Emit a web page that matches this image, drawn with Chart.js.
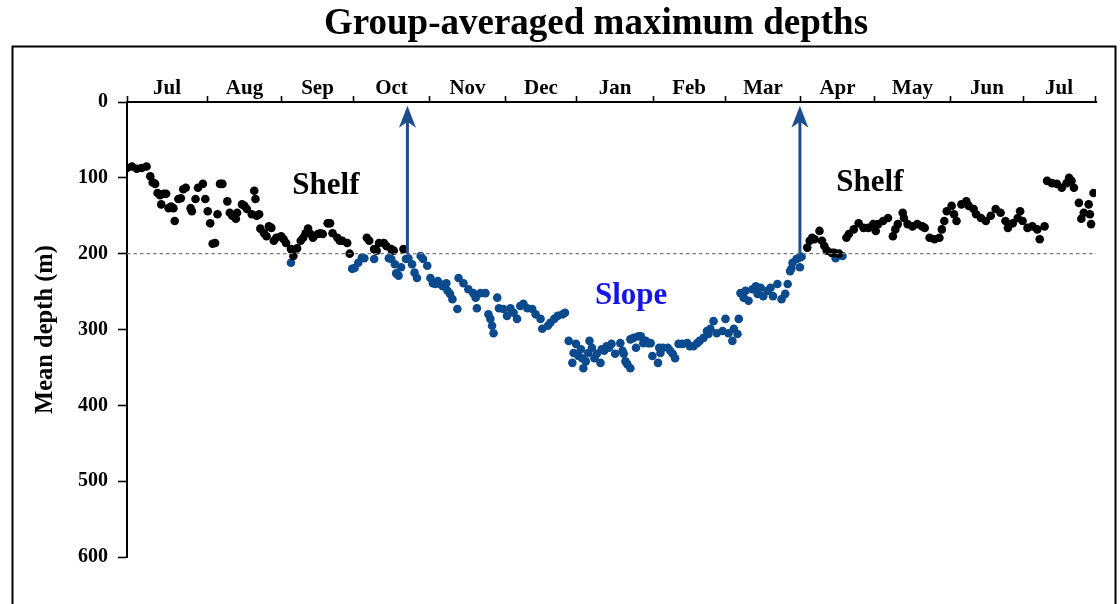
<!DOCTYPE html>
<html>
<head>
<meta charset="utf-8">
<script src="https://cdn.jsdelivr.net/npm/chart.js@4.4.1/dist/chart.umd.min.js"></script>
<style>
  html, body { margin: 0; padding: 0; background: #fff; }
  #wrap { width: 1120px; height: 604px; position: relative; }
</style>
</head>
<body>
<div id="wrap"><canvas id="c" width="1120" height="604"></canvas></div>
<script>
// Month names along the top axis (July through the following July)
const monthLabels = ['Jul', 'Aug', 'Sep', 'Oct', 'Nov', 'Dec', 'Jan', 'Feb', 'Mar', 'Apr', 'May', 'Jun', 'Jul'];
// Month boundaries, in days since the start of the first July
const monthEdges = [0, 32.7, 63.3, 92.4, 123.8, 154.5, 183.9, 215.0, 244.4, 275.4, 305.3, 336.7, 366.2, 395.6];
// Depth ticks (m)
const depthTicks = [0, 100, 200, 300, 400, 500, 600];

// Daily group-averaged maximum depth while on the shelf: [day, depth m]
const shelfPoints = [
  [0,87],[2,85],[4,88],[6,87],[8,85],[9.5,98],[10.5,106],[11.5,108],[12.5,120],[13.5,123],[14,135],[15,121],
  [16,121],[17,140],[18,138],[19,140],[19.5,157],[21,128],[22,127],[23,115],[24,113],[26,140],[26.5,144],
  [28,128],[29,113],[31,108],[32,128],[33,144],[34,160],[35,187],[36,186],[37,148],[38,108],[39,108],
  [41,131],[42,146],[43,150],[44.5,154],[45,146],[47,135],[48,137],[49,141],[51,148],[52,117],[52.5,128],
  [53,150],[54,148],[54.5,167],[56,173],[57,177],[58,164],[59,166],[60,183],[61,179],[63,177],[64,181],
  [65,186],[67,194],[68,203],[69.5,193],[71,183],[72,179],[73,173],[74,167],[75,174],[76,179],[78,174],
  [79,173],[80,174],[82,160],[83,160],[84,173],[86,179],[87,183],[88,183],[90,186],[91,200],[98,179],
  [99,183],[101,194],[102,196],[103,186],[105,186],[106,190],[108,194],[109,196],[113,194],
  [278,192],[279,183],[280,179],[281,181],[283,170],[284,183],[285,190],[286,196],[288,199],[289,199],
  [291,200],[294,179],[295,174],[297,168],[299,160],[301,166],[303,166],[305,161],[306,170],[307,161],
  [309,157],[311,153],[313,177],[314,168],[315,161],[317,146],[317.5,153],[319,161],[321,164],[323,161],
  [325,164],[326,166],[328,179],[330,181],[332,179],[333,168],[334,157],[335,144],[337,137],[338,148],
  [339,157],[341,135],[343,131],[344,137],[346,141],[347,148],[349,153],[351,157],[353,150],[355,141],
  [357,146],[359,157],[360,166],[362,160],[364,153],[365,144],[366,157],[368,166],[370,164],[372,168],
  [373,181],[375,164],[376,104],[378,107],[380,108],[382,113],[384,107],[385,100],[386,104],[387,113],
  [389,133],[390,154],[391,146],[393,135],[393.5,148],[394,161],[395,120]
];

// Daily group-averaged maximum depth while on the slope: [day, depth m]
const slopePoints = [
  [67,212],[92,220],[93,219],[94.5,212],[96,205],[97,206],[101,207],[107,206],[108,207],[109.5,214],
  [110,226],[111,229],[112,218],[114,207],[115,206],[116.5,214],[117.5,225],[118.5,232],[120,203],
  [121,207],[122.7,216],[124,232],[125,239],[126,240],[127,236],[128,240],[129,243],[130.5,239],
  [131,249],[132,253],[133,260],[135,273],[135.5,232],[137.5,239],[139.5,247],[141.5,252],[142.5,258],
  [143,272],[144.5,252],[146.5,252],[147.7,280],[148.5,286],[149.2,295],[149.8,305],[151.3,258],
  [152,272],[153.8,273],[155.3,282],[156.7,272],[158,278],[159.4,286],[160.7,269],[162,266],
  [163.6,272],[165.6,273],[167,280],[169,286],[169.7,299],[172,295],[173,291],[174.6,286],[176,282],
  [178,280],[179,278],
  [180.5,315],[182,344],[182.5,331],[183.5,319],[184.5,335],[185.5,326],[186,338],[186.5,351],
  [187.5,342],[188.5,331],[189,315],[190,324],[191,338],[192,332],[193.5,344],[194,326],[195,328],
  [196,322],[197,324],[198,319],[199.5,332],[201.6,318],[202.5,328],[203,332],[203.7,342],[204.5,346],
  [205.7,351],[205.7,313],[207,311],[208,324],[209,309],[210,309],[211,318],[212,315],[213,318],
  [214,318],[214.7,335],[217,344],[217.5,324],[218,331],[219,324],[221,324],[222,328],[223,332],
  [224,338],[225.4,319],[227,319],[229,318],[230,322],[231.5,322],[233,318],[234,315],[235.6,311],
  [237,302],[237.6,306],[238.4,299],[239.7,289],[241,305],[243.4,302],[244.6,286],[245.8,305],
  [247.4,315],[248,299],[249.5,306],[250,286],
  [250.7,252],[252,258],[252.8,249],[254,262],[255.6,247],[257,243],[257.7,253],[259,245],[260,256],
  [261.8,249],[263,245],[264,256],[265.8,240],[267.5,260],[269,253],[270,240],[271,223],[271.5,220],
  [272,212],[273.6,207],[274.4,206],[275,218],[275.7,204],
  [289.6,206],[292.4,203]
];

// Shelf-break depth (m) drawn as the dashed reference line
const shelfBreak = 200;
// Transition arrows: day of crossing, base depth and tip depth (m)
const arrowDays = [114.6, 275.0];
const arrowBase = 200;
const arrowTip = 5;
// Region names: text, day, depth, colour
const regionText = ['Shelf', 'Shelf', 'Slope'];
const regionDays = [81.3, 303.6, 206.0];
const regionDepths = [110.8, 106.8, 255.8];
const regionColors = ['#000000', '#000000', '#1414e6'];

const SERIF = '"Liberation Serif", "Times New Roman", serif';
const BLUE = '#0b4a8c';
const monthMids = monthLabels.map((_, i) => (monthEdges[i] + monthEdges[i + 1]) / 2);
const edgeSet = new Set(monthEdges);

// White page with the figure frame
const framePlugin = {
  id: 'frame',
  beforeDraw(chart) {
    const ctx = chart.ctx;
    ctx.save();
    ctx.fillStyle = '#fff';
    ctx.fillRect(0, 0, chart.width, chart.height);
    ctx.strokeStyle = '#000';
    ctx.lineWidth = 2;
    ctx.strokeRect(12.5, 46.5, 1103, 600);
    ctx.restore();
  }
};

// Center the title over the plotting frame
const titlePlacePlugin = {
  id: 'titlePlace',
  afterLayout(chart) {
    if (chart.titleBlock) {
      chart.titleBlock.left = 96;
      chart.titleBlock.right = 1096;
    }
  }
};

// Arrows and region names
const annotatePlugin = {
  id: 'annotate',
  afterDatasetsDraw(chart) {
    const ctx = chart.ctx;
    const xs = chart.scales.x, ys = chart.scales.y;
    ctx.save();
    arrowDays.forEach(d => {
      const x = xs.getPixelForValue(d);
      const yb = ys.getPixelForValue(arrowBase);
      const yt = ys.getPixelForValue(arrowTip);
      ctx.strokeStyle = '#1c4d8c';
      ctx.fillStyle = '#1c4d8c';
      ctx.lineWidth = 3;
      ctx.beginPath();
      ctx.moveTo(x, yb);
      ctx.lineTo(x, yt + 14);
      ctx.stroke();
      ctx.beginPath();
      ctx.moveTo(x, yt);
      ctx.lineTo(x + 8.5, yt + 22);
      ctx.lineTo(x, yt + 16);
      ctx.lineTo(x - 8.5, yt + 22);
      ctx.closePath();
      ctx.fill();
    });
    ctx.textAlign = 'center';
    ctx.textBaseline = 'middle';
    ctx.font = 'bold 31px ' + SERIF;
    regionText.forEach((t, i) => {
      ctx.fillStyle = regionColors[i];
      ctx.fillText(t, xs.getPixelForValue(regionDays[i]), ys.getPixelForValue(regionDepths[i]));
    });
    ctx.restore();
  }
};

const TITLE_SIZE = 37;
const TITLE_PAD = 4;
const TITLE_H = TITLE_SIZE * 1.1 + TITLE_PAD;

new Chart(document.getElementById('c'), {
  type: 'scatter',
  data: {
    datasets: [
      {
        type: 'line',
        label: 'Shelf break',
        data: [{ x: 0, y: shelfBreak }, { x: 396, y: shelfBreak }],
        borderColor: '#7d7d7d',
        borderWidth: 1.4,
        borderDash: [3.5, 3],
        pointRadius: 0,
        fill: false
      },
      {
        label: 'Shelf',
        data: shelfPoints.map(p => ({ x: p[0], y: p[1] })),
        backgroundColor: '#000',
        borderColor: '#000',
        borderWidth: 0,
        pointRadius: 4.3
      },
      {
        label: 'Slope',
        data: slopePoints.map(p => ({ x: p[0], y: p[1] })),
        backgroundColor: BLUE,
        borderColor: BLUE,
        borderWidth: 0,
        pointRadius: 4.3
      }
    ]
  },
  options: {
    responsive: false,
    animation: false,
    devicePixelRatio: 1,
    layout: { padding: { left: 0, right: 24, top: 0, bottom: 47 } },
    plugins: {
      legend: { display: false },
      tooltip: { enabled: false },
      title: {
        display: true,
        text: 'Group-averaged maximum depths',
        color: '#000',
        font: { family: SERIF, size: TITLE_SIZE, weight: 'bold', lineHeight: 1.1 },
        padding: { top: TITLE_PAD, bottom: 0 }
      }
    },
    scales: {
      x: {
        type: 'linear',
        position: 'top',
        min: 0,
        max: 396,
        afterBuildTicks(scale) {
          scale.ticks = monthMids.concat(monthEdges).map(v => ({ value: v }));
        },
        afterFit(scale) { scale.height = 102 - TITLE_H; },
        ticks: {
          autoSkip: false,
          maxRotation: 0,
          padding: -5,
          color: '#000',
          font: { family: SERIF, size: 21, weight: 'bold', lineHeight: 1.2 },
          callback(value, index) {
            return index < monthLabels.length ? monthLabels[index] : '';
          }
        },
        grid: {
          drawOnChartArea: false,
          tickLength: 6,
          tickWidth: 1.6,
          tickColor: ctx => (ctx.tick && edgeSet.has(ctx.tick.value)) ? '#000' : 'rgba(0,0,0,0)'
        },
        border: { color: '#000', width: 2 }
      },
      y: {
        type: 'linear',
        position: 'left',
        reverse: true,
        min: 0,
        max: 600,
        afterBuildTicks(scale) {
          scale.ticks = depthTicks.map(v => ({ value: v }));
        },
        afterFit(scale) { scale.width = 127; },
        ticks: {
          padding: 10,
          color: '#000',
          font: { family: SERIF, size: 20, weight: 'bold' }
        },
        grid: {
          drawOnChartArea: false,
          tickLength: 9,
          tickWidth: 1.6,
          tickColor: '#000'
        },
        border: { color: '#000', width: 2 },
        title: {
          display: true,
          text: 'Mean depth (m)',
          color: '#000',
          font: { family: SERIF, size: 24.5, weight: 'bold', lineHeight: 1.2 },
          padding: { top: 31, bottom: 0 }
        }
      }
    }
  },
  plugins: [framePlugin, titlePlacePlugin, annotatePlugin]
});
</script>
</body>
</html>
